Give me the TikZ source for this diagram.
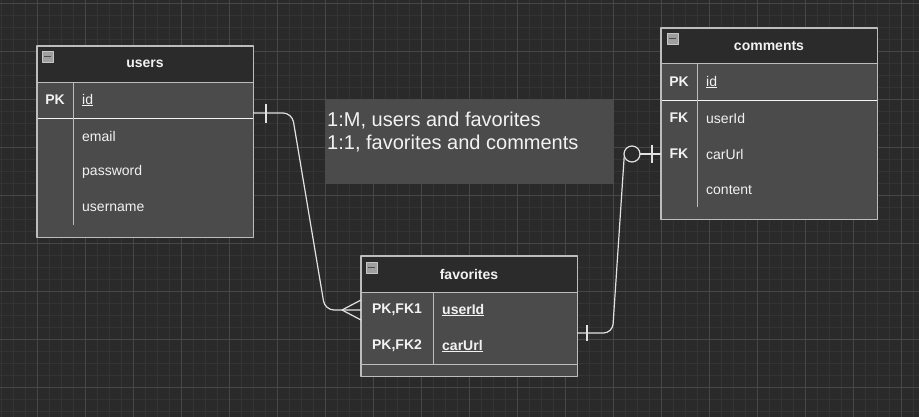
\documentclass[tikz,border=0pt]{standalone}
\usepackage{fontspec}
\setmainfont{Liberation Sans}
\definecolor{bg}{HTML}{2A2A2A}
\definecolor{gridminor}{HTML}{343434}
\definecolor{gridmajor}{HTML}{474747}
\definecolor{body}{HTML}{4B4B4B}
\definecolor{head}{HTML}{2B2B2B}
\definecolor{edge}{HTML}{BDBDBD}
\definecolor{ink}{HTML}{F2F2F2}
\definecolor{wire}{HTML}{E2E2E2}
\tikzset{
  tbl/.style={fill=body, anchor=north west, inner sep=0pt, minimum width=216pt},
  frame/.style={draw=edge, line width=1.3pt},
  sep/.style={draw=edge, line width=0.9pt},
  hd/.style={text=ink, font=\fontsize{14}{16}\selectfont\bfseries, inner sep=0pt},
  key/.style={text=ink, font=\fontsize{14}{16}\selectfont\bfseries, inner sep=0pt},
  fld/.style={text=ink, font=\fontsize{14}{16}\selectfont, anchor=west, inner sep=0pt},
  notetxt/.style={text=ink, font=\fontsize{20}{23}\selectfont, anchor=base west, inner sep=0pt},
  wire/.style={draw=wire, line width=1.2pt},
}
\newcommand\minusicon[2]{%
  \draw[fill=gray!75, draw=gray!45] (#1,#2) rectangle ++(11,11);
  \draw[black!70, line width=1.6pt] (#1+2,#2+5.5) -- ++(7,0);}
\begin{document}
\begin{tikzpicture}[x=1pt,y=-1pt, line join=round]
\useasboundingbox (0,0) rectangle (919,417);
% background grid
\fill[bg] (0,0) rectangle (919,417);
\foreach \x in {1,13,...,913} \draw[gridminor, line width=0.7pt] (\x,0) -- (\x,417);
\foreach \y in {3,15,...,411} \draw[gridminor, line width=0.7pt] (0,\y) -- (919,\y);
\foreach \x in {37,85,...,901} \draw[gridmajor, line width=0.9pt] (\x,0) -- (\x,417);
\foreach \y in {3,51,...,387} \draw[gridmajor, line width=0.9pt] (0,\y) -- (919,\y);

% users
\node[tbl, minimum height=191pt] (users) at (37,46) {};
\fill[head] (37,46) rectangle (253,82);
\draw[sep] (37,82) -- (253,82);
\draw[sep, draw=white!85!edge] (37,118) -- (253,118);
\draw[sep] (73,82) -- (73,225);
\draw[frame] (users.north west) rectangle (users.south east);
\minusicon{42}{51}
\node[hd] (users-t) at (145,64) {users};
\node[key] (users-pk) at (55,100) {PK};
\node[fld] (users-id) at (82,100) {\underline{id}};
\node[fld] (users-email) at (82,136) {email};
\node[fld] (users-pw) at (82,172) {password};
\node[fld] (users-name) at (82,208) {username};

% comments
\node[tbl, minimum height=191pt] (comments) at (661,28) {};
\fill[head] (661,28) rectangle (877,63);
\draw[sep] (661,63) -- (877,63);
\draw[sep, draw=white!85!edge] (661,100) -- (877,100);
\draw[sep] (697,63) -- (697,207);
\draw[frame] (comments.north west) rectangle (comments.south east);
\minusicon{667}{33}
\node[hd] (comments-t) at (769,46) {comments};
\node[key] (comments-pk) at (679,82) {PK};
\node[key] (comments-fk1) at (679,118) {FK};
\node[key] (comments-fk2) at (679,154) {FK};
\node[fld] (comments-id) at (706,82) {\underline{id}};
\node[fld] (comments-user) at (706,118) {userId};
\node[fld] (comments-car) at (706,154) {carUrl};
\node[fld] (comments-content) at (706,190) {content};

% favorites
\node[tbl, minimum height=120pt] (favorites) at (361,256) {};
\fill[head] (361,256) rectangle (577,292);
\draw[sep] (361,292) -- (577,292);
\draw[sep] (361,364) -- (577,364);
\draw[sep] (433,292) -- (433,364);
\draw[frame] (favorites.north west) rectangle (favorites.south east);
\minusicon{366}{262}
\node[hd] (favorites-t) at (469,274) {favorites};
\node[key] (favorites-pk1) at (397,310) {PK,FK1};
\node[key] (favorites-pk2) at (397,346) {PK,FK2};
\node[fld, font=\fontsize{14}{16}\selectfont\bfseries] (favorites-user) at (442,310) {\underline{userId}};
\node[fld, font=\fontsize{14}{16}\selectfont\bfseries] (favorites-car) at (442,346) {\underline{carUrl}};

% note
\node[tbl, minimum width=289pt, minimum height=85pt] (note) at (325,99) {};
\node[notetxt] (note-l1) at (327,127) {1:M, users and favorites};
\node[notetxt] (note-l2) at (327,150) {1:1, favorites and comments};

% users -> favorites (one to many)
\coordinate (u-out) at (253,113);
\coordinate (f-in) at (361,310);
\coordinate (f-foot) at (342,310);
\draw[wire, rounded corners=9pt] (u-out) -- (292,113) -- (325,310) -- (f-in);
\draw[wire] (266,104) -- (266,123);
\draw[wire] (f-foot) -- (361,300) (f-foot) -- (361,320);

% favorites -> comments (one to zero or one)
\coordinate (f-out) at (577,333);
\coordinate (c-in) at (661,154);
\coordinate (c-ring) at (632,154);
\draw[wire, rounded corners=9pt] (f-out) -- (612.5,333) -- (624.2,156.5);
\draw[wire] (587,325) -- (587,341);
\draw[wire, fill=bg] (c-ring) circle (8);
\draw[wire] ([xshift=8pt]c-ring) -- (c-in);
\draw[wire] (652,145) -- (652,163);
\end{tikzpicture}
\end{document}
